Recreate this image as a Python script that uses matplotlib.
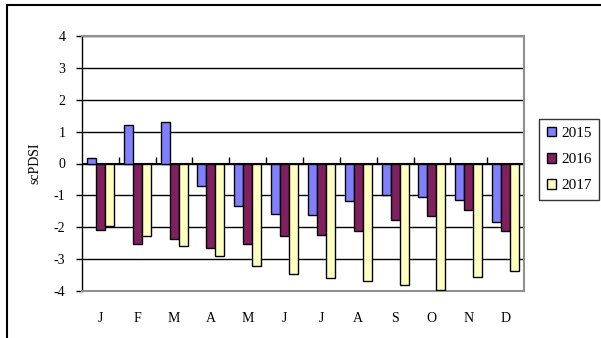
import numpy as np
import matplotlib.pyplot as plt
from matplotlib.patches import Rectangle

months = ['J', 'F', 'M', 'A', 'M', 'J', 'J', 'A', 'S', 'O', 'N', 'D']
y2015 = [0.18, 1.2, 1.3, -0.72, -1.34, -1.57, -1.62, -1.18, -0.99, -1.05, -1.14, -1.84]
y2016 = [-2.08, -2.52, -2.37, -2.66, -2.52, -2.28, -2.23, -2.12, -1.76, -1.66, -1.47, -2.12]
y2017 = [-1.95, -2.28, -2.6, -2.9, -3.22, -3.46, -3.6, -3.7, -3.8, -3.98, -3.56, -3.37]
years = ['2015', '2016', '2017']
colors = ['#8080ff', '#802060', '#ffffc0']

plt.rcParams['font.family'] = ['Liberation Serif', 'DejaVu Serif']
plt.rcParams['font.size'] = 10
plt.rcParams['axes.unicode_minus'] = False

fig = plt.figure(figsize=(6.01, 3.38), dpi=100)
# outer chart border
fig.patches.append(Rectangle((7 / 601, -0.1), 1.1, 1 - 5 / 338 + 0.1, transform=fig.transFigure,
                             fill=False, edgecolor='black', linewidth=1.5))

ax = fig.add_axes([82 / 601, 1 - 291 / 338, 442 / 601, 255 / 338])
x = np.arange(len(months))
w = 0.245
for i, (vals, lab, c) in enumerate(zip([y2015, y2016, y2017], years, colors)):
    ax.bar(x + (i - 1) * w, vals, w, color=c, edgecolor='black', linewidth=1, label=lab, zorder=3)

ax.set_xlim(-0.5, 11.5)
ax.set_ylim(-4, 4)
ax.set_yticks(range(-4, 5))
ax.yaxis.grid(True, color='black', linewidth=1)
ax.set_axisbelow(True)
ax.set_xticks(x)
ax.set_xticklabels(months)
ax.tick_params(axis='x', length=0, pad=15)
ax.tick_params(axis='y', length=4, width=1, direction='out', pad=8)
for s in ['top', 'right', 'bottom']:
    ax.spines[s].set_color('#909090')
    ax.spines[s].set_linewidth(1.5)
ax.spines['left'].set_color('black')
ax.spines['left'].set_linewidth(1)
ax.set_ylabel('scPDSI', labelpad=9)

# category axis crossing at zero
sec = ax.secondary_xaxis(0.5)
sec.set_xticks(np.arange(0.5, 11, 1))
sec.set_xticklabels([])
sec.tick_params(length=4, width=1, direction='out', color='black')
sec.spines['bottom'].set_linewidth(1.5)
sec.spines['bottom'].set_color('black')

leg = ax.legend(loc='upper left', bbox_to_anchor=(539 / 601, 1 - 119 / 338),
                bbox_transform=fig.transFigure, borderaxespad=0, fancybox=False,
                edgecolor='black', fontsize=11, handlelength=0.6, handleheight=0.6,
                handletextpad=0.35, labelspacing=0.85, borderpad=0.5)
leg.get_frame().set_linewidth(1)

plt.savefig('out.png', dpi=100)
